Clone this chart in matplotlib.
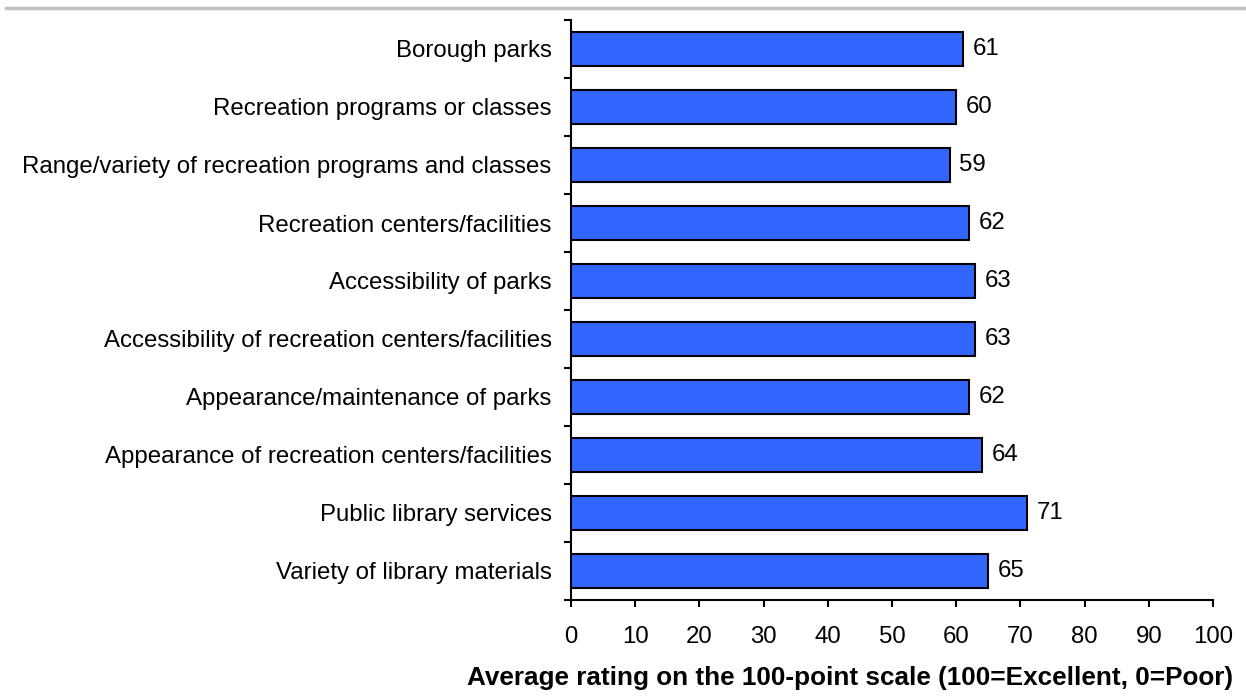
import matplotlib
matplotlib.use("Agg")
import matplotlib.pyplot as plt
from matplotlib.lines import Line2D

plt.rcParams['font.family'] = ['Liberation Sans', 'DejaVu Sans']

categories = [
    "Borough parks",
    "Recreation programs or classes",
    "Range/variety of recreation programs and classes",
    "Recreation centers/facilities",
    "Accessibility of parks",
    "Accessibility of recreation centers/facilities",
    "Appearance/maintenance of parks",
    "Appearance of recreation centers/facilities",
    "Public library services",
    "Variety of library materials",
]
values = [61, 60, 59, 62, 63, 63, 62, 64, 71, 65]
xticks = list(range(0, 101, 10))
xlabel = "Average rating on the 100-point scale (100=Excellent, 0=Poor)"

FS = 17.3

fig = plt.figure(figsize=(12.46, 6.98), dpi=100)
ax = fig.add_axes([571/1246, 1-600/698, (1213-571)/1246, (600-20)/698])

n = len(categories)
ypos = list(range(n))
bars = ax.barh(ypos, values, height=0.59, color='#3366FF', edgecolor='black', linewidth=1.5, zorder=3)
ax.set_ylim(n-0.5, -0.5)
ax.set_xlim(0, 100)

ax.set_yticks(ypos)
ax.set_yticklabels(categories, fontsize=FS)
ax.set_yticks([i-0.5 for i in range(n+1)], minor=True)
ax.tick_params(axis='y', which='major', length=0, pad=14)
ax.tick_params(axis='y', which='minor', length=5, width=1.5, direction='out')

ax.set_xticks(xticks)
ax.set_xticklabels([str(t) for t in xticks], fontsize=FS)
ax.tick_params(axis='x', which='major', length=5, width=1.5, direction='out', pad=14)

for s in ['top', 'right']:
    ax.spines[s].set_visible(False)
for s in ['left', 'bottom']:
    ax.spines[s].set_linewidth(1.5)

for b, v in zip(bars, values):
    ax.text(b.get_width() + 1.5, b.get_y() + b.get_height()/2, str(v),
            va='center', ha='left', fontsize=FS)

fig.text(1233/1246, 1-678/698, xlabel, fontsize=18.8, fontweight='bold', ha='right', va='center')

fig.add_artist(Line2D([6/1246, 1], [1-8/698, 1-8/698], color='#C0C0C0', linewidth=2.5, transform=fig.transFigure))

fig.savefig("out.png", dpi=100)
